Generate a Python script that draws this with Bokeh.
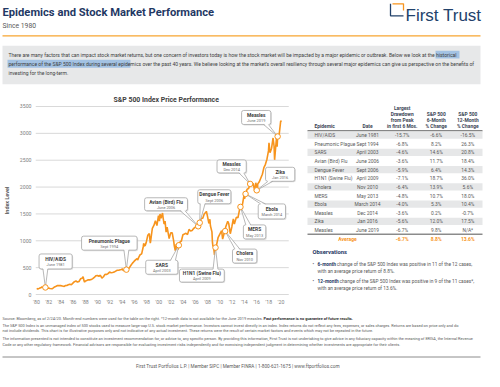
from bokeh.plotting import figure
from bokeh.layouts import column, row
from bokeh.models import Range1d, FixedTicker
from bokeh.core.properties import value
from bokeh.embed import file_html
from bokeh.resources import INLINE

FONT = "Roboto"
NAVY = "#1F3864"
ORANGE = "#F7941D"
GRAY = "#595959"

# ---------------- data ----------------
months = ["1980-01","1980-03","1980-06","1980-09","1980-11","1980-12","1981-03","1981-06","1981-09","1981-12",
          "1982-03","1982-07","1982-09","1982-12","1983-03","1983-06","1983-09","1983-12","1984-03","1984-07",
          "1984-09","1984-12","1985-03","1985-06","1985-09","1985-12","1986-03","1986-06","1986-09","1986-12",
          "1987-03","1987-06","1987-08","1987-10","1987-11","1987-12","1988-03","1988-06","1988-09","1988-12",
          "1989-03","1989-06","1989-09","1989-12","1990-03","1990-06","1990-09","1990-12","1991-03","1991-06",
          "1991-09","1991-12","1992-03","1992-06","1992-09","1992-12","1993-03","1993-06","1993-09","1993-12",
          "1994-01","1994-03","1994-06","1994-09","1994-12","1995-03","1995-06","1995-09","1995-12","1996-03",
          "1996-06","1996-07","1996-09","1996-12","1997-03","1997-06","1997-07","1997-08","1997-10","1997-12",
          "1998-03","1998-06","1998-08","1998-09","1998-11","1998-12","1999-03","1999-06","1999-09","1999-12",
          "2000-02","2000-03","2000-05","2000-08","2000-09","2000-11","2000-12","2001-01","2001-03","2001-05",
          "2001-09","2001-12","2002-03","2002-06","2002-07","2002-09","2002-11","2002-12","2003-02","2003-03",
          "2003-04","2003-06","2003-09","2003-12","2004-03","2004-06","2004-09","2004-12","2005-03","2005-06",
          "2005-09","2005-12","2006-03","2006-04","2006-06","2006-09","2006-12","2007-03","2007-06","2007-09",
          "2007-10","2007-12","2008-03","2008-05","2008-06","2008-09","2008-10","2008-11","2008-12","2009-02",
          "2009-03","2009-04","2009-06","2009-09","2009-12","2010-03","2010-04","2010-06","2010-09","2010-11",
          "2010-12","2011-04","2011-06","2011-09","2011-12","2012-03","2012-05","2012-09","2012-12","2013-03",
          "2013-05","2013-06","2013-09","2013-12","2014-01","2014-03","2014-06","2014-09","2014-12","2015-03",
          "2015-06","2015-08","2015-09","2015-11","2015-12","2016-01","2016-02","2016-03","2016-06","2016-09",
          "2016-12","2017-03","2017-06","2017-09","2017-12","2018-01","2018-03","2018-06","2018-09","2018-11",
          "2018-12","2019-03","2019-04","2019-05","2019-06","2019-09","2019-12","2020-01","2020-02"]
sp500 = [114.2,102.1,114.2,125.5,140.5,135.8,136.0,131.2,116.2,122.6,
         112.0,107.1,120.4,140.6,153.0,168.1,166.1,164.9,159.2,150.7,
         166.1,167.2,180.7,191.9,182.1,211.3,238.9,250.8,231.3,242.2,
         291.7,304.0,329.8,251.8,230.3,247.1,258.9,273.5,271.9,277.7,
         294.9,318.0,349.2,353.4,339.9,358.0,306.1,330.2,375.2,371.2,
         387.9,417.1,403.7,408.1,417.8,435.7,451.7,450.5,458.9,466.5,
         481.6,445.8,444.3,462.7,459.3,500.7,544.8,584.4,615.9,645.5,
         670.6,639.9,687.3,740.7,757.1,885.1,954.3,899.5,914.6,970.4,
         1101.8,1133.8,957.3,1017.0,1163.6,1229.2,1286.4,1372.7,1282.7,1469.3,
         1366.4,1498.6,1420.6,1517.7,1436.5,1315.2,1320.3,1366.0,1160.3,1255.8,
         1040.9,1148.1,1147.4,989.8,911.6,815.3,936.3,879.8,841.2,848.2,
         916.9,974.5,996.0,1111.9,1126.2,1140.8,1114.6,1211.9,1180.6,1191.3,
         1228.8,1248.3,1294.8,1310.6,1270.2,1335.9,1418.3,1420.9,1503.4,1526.8,
         1549.4,1468.4,1322.7,1400.4,1280.0,1166.4,968.8,896.2,903.3,735.1,
         797.9,872.8,919.3,1057.1,1115.1,1169.4,1186.7,1030.7,1141.2,1180.6,
         1257.6,1363.6,1320.6,1131.4,1257.6,1408.5,1310.3,1440.7,1426.2,1569.2,
         1630.7,1606.3,1681.6,1848.4,1782.6,1872.3,1960.2,1972.3,2058.9,2067.9,
         2063.1,1972.2,1920.0,2080.4,2043.9,1940.2,1932.2,2059.7,2098.9,2168.3,
         2238.8,2362.7,2423.4,2519.4,2673.6,2823.8,2640.9,2718.4,2914.0,2760.2,
         2506.9,2834.4,2945.8,2752.1,2941.8,2976.7,3230.8,3225.5,3225.9]

x_ticks = [1980,1982,1984,1986,1988,1990,1992,1994,1996,1998,2000,2002,2004,2006,2008,2010,2012,2014,2016,2018,2020]
x_tick_labels = ["'80","'82","'84","'86","'88","'90","'92","'94","'96","'98","'00","'02","'04","'06","'08","'10","'12","'14","'16","'18","'20"]
y_ticks = [0, 500, 1000, 1500, 2000, 2500, 3000, 3500]

epidemics = ["HIV/AIDS","Pneumonic Plague","SARS","Avian (Bird) Flu","Dengue Fever","H1N1 (Swine Flu)",
             "Cholera","MERS","Ebola","Measles","Zika","Measles"]
event_dates = ["June 1981","Sept 1994","April 2003","June 2006","Sept 2006","April 2009",
               "Nov 2010","May 2013","March 2014","Dec 2014","Jan 2016","June 2019"]
event_months = ["1981-06","1994-09","2003-04","2006-06","2006-09","2009-04",
                "2010-11","2013-05","2014-03","2014-12","2016-01","2019-06"]
drawdown = ["-15.7%","-6.8%","-4.6%","-3.6%","-5.9%","-7.1%","-6.4%","-4.8%","-4.0%","-3.6%","-5.6%","-6.7%"]
six_month = ["-6.6%","8.2%","14.6%","11.7%","6.4%","18.7%","13.9%","10.7%","5.3%","0.2%","12.0%","9.8%"]
twelve_month = ["-16.5%","26.3%","20.8%","18.4%","14.3%","36.0%","5.6%","18.0%","10.4%","-0.7%","17.5%","N/A*"]
average_row = ["-6.7%", "8.8%", "13.6%"]

# callout layout: box centre offset from marker (px right, px down), box width, height
callout_layout = [(10.5,-26,34,15),(-17.5,-26.5,57,14),(-17.5,22,33,14),(-33,-22,44,13),(15,-26,34,14),
                  (-14,28,46,13),(20,25,25,14),(14.5,25,23,14),(27,17.5,28,15),(-19,-17.5,30,13),
                  (24,-16,30,14),(-22,-19,30,14)]


def dec_year(m):
    y, mo = m.split("-")
    return int(y) + (int(mo) - 0.5) / 12.0


def blank(w, h):
    p = figure(width=w, height=h, x_range=Range1d(0, w), y_range=Range1d(h, 0),
               output_backend="svg", toolbar_location=None, min_border=0,
               x_axis_location=None, y_axis_location=None)
    p.grid.visible = False
    p.outline_line_color = None
    return p


def txt(p, x, y, s, size, color, bold=False, align="left", baseline="middle", font=FONT):
    p.text(x=[x], y=[y], text=[s], text_font=value(font), text_font_size=f"{size}px",
           text_color=color, text_font_style="bold" if bold else "normal",
           text_align=align, text_baseline=baseline)


# ---------------- header ----------------
hdr = blank(484, 90)
txt(hdr, 2, 12, "Epidemics and Stock Market Performance", 11.2, NAVY, bold=True, baseline="alphabetic")
txt(hdr, 2, 25, "Since 1980", 6.8, GRAY, baseline="alphabetic")
hdr.segment(x0=[2], y0=[35.3], x1=[480], y1=[35.3], line_color="#F7A531", line_width=1.2)
txt(hdr, 405, 15.3, "First Trust", 17, "#22426B", baseline="alphabetic", font="Liberation Sans")
hdr.multi_line(xs=[[403, 390, 390]], ys=[[15.3, 15.3, 3.3]], line_color="#22426B", line_width=1.3)
hdr.multi_line(xs=[[392, 403, 403]], ys=[[3.3, 3.3, 10]], line_color=ORANGE, line_width=1.3)
hdr.quad(left=[2], right=[480], top=[45.3], bottom=[83.7], fill_color="#E7E8E9", line_color=None)
hdr.quad(left=[435, 7], right=[459, 130], top=[50.3, 59.3], bottom=[58, 67.3],
         fill_color="#A3C2E3", line_color=None)
para = ["There are many factors that can impact stock market returns, but one concern of investors today is how the stock market will be impacted by a major epidemic or outbreak. Below we look at the historical",
        "performance of the S&P 500 Index during several epidemics over the past 40 years. We believe looking at the market\u2019s overall resiliency through several major epidemics can give us perspective on the benefits of",
        "investing for the long-term."]
for i, line in enumerate(para):
    txt(hdr, 8, 54.3 + 9 * i, line, 5.0, "#404040")

# ---------------- chart ----------------
X0, X1 = 1979.84, 2022.87
Y0, Y1 = -18.6, 3518.6
FW, FH = 270, 190
PX_X = FW / (X1 - X0)
PX_Y = FH / (Y1 - Y0)

ch = figure(width=304, height=220, x_range=Range1d(X0, X1), y_range=Range1d(Y0, Y1),
            output_backend="svg", toolbar_location=None,
            min_border_left=28, min_border_right=6, min_border_top=15, min_border_bottom=15)
ch.outline_line_color = None
ch.grid.visible = False
ch.title.text = "S&P 500 Index Price Performance"
ch.title.align = "left"
ch.title.offset = 78
ch.title.standoff = 3
ch.title.text_font = FONT
ch.title.text_font_size = "6.9px"
ch.title.text_font_style = "bold"
ch.title.text_color = "#404040"
for ax in (ch.xaxis[0], ch.yaxis[0]):
    ax.axis_line_color = None
    ax.major_tick_line_color = None
    ax.minor_tick_line_color = None
    ax.major_tick_in = 0
    ax.major_tick_out = 0
    ax.major_label_text_font = FONT
    ax.major_label_text_font_size = "5.2px"
    ax.major_label_text_color = "#808080"
ch.xaxis.ticker = FixedTicker(ticks=x_ticks)
ch.xaxis.major_label_overrides = {t: l for t, l in zip(x_ticks, x_tick_labels)}
ch.xaxis.major_label_standoff = 3
ch.yaxis.ticker = FixedTicker(ticks=y_ticks)
ch.yaxis.major_label_standoff = 4
ch.yaxis.axis_label = "Index Level"
ch.yaxis.axis_label_text_font = FONT
ch.yaxis.axis_label_text_font_size = "5.4px"
ch.yaxis.axis_label_text_font_style = "bold"
ch.yaxis.axis_label_text_color = "#595959"
ch.yaxis.axis_label_standoff = 7

grid_x0 = X0
grid_x1 = X0 + 260 / PX_X
ch.segment(x0=[grid_x0] * len(y_ticks), x1=[grid_x1] * len(y_ticks), y0=y_ticks, y1=y_ticks,
           line_color="#D9D9D9", line_width=1)

xs = [dec_year(m) for m in months]
ch.line(x=xs, y=sp500, line_color=ORANGE, line_width=1.6)

lookup = dict(zip(months, sp500))
ev_x = [dec_year(m) for m in event_months]
ev_y = [lookup[m] for m in event_months]


def to_data(ex, ey, px, py):
    return ex + px / PX_X, ey - py / PX_Y


def clamp(v, lo, hi):
    return max(lo, min(hi, v))


box_l, box_r, box_t, box_b = [], [], [], []
sh_l, sh_r, sh_t, sh_b = [], [], [], []
tail_xs, tail_ys, side_xs, side_ys = [], [], [], []
name_x, name_y, date_y = [], [], []
for i in range(len(epidemics)):
    ex, ey = ev_x[i], ev_y[i]
    dx, dy, w, h = callout_layout[i]
    l, r, t, b = dx - w / 2, dx + w / 2, dy - h / 2, dy + h / 2
    L, T = to_data(ex, ey, l, t)
    R, B = to_data(ex, ey, r, b)
    box_l.append(L); box_r.append(R); box_t.append(T); box_b.append(B)
    L2, T2 = to_data(ex, ey, l + 1, t + 1)
    R2, B2 = to_data(ex, ey, r + 1, b + 1)
    sh_l.append(L2); sh_r.append(R2); sh_t.append(T2); sh_b.append(B2)
    if b < 0:
        xb = clamp(0, l + 5, r - 5)
        p1, p2, q1, q2 = (xb - 2.5, b), (xb + 2.5, b), (xb - 2.5, b - 1), (xb + 2.5, b - 1)
    elif t > 0:
        xb = clamp(0, l + 5, r - 5)
        p1, p2, q1, q2 = (xb - 2.5, t), (xb + 2.5, t), (xb - 2.5, t + 1), (xb + 2.5, t + 1)
    elif dx > 0:
        yb = clamp(0, t + 4, b - 4)
        p1, p2, q1, q2 = (l, yb - 2.5), (l, yb + 2.5), (l + 1, yb - 2.5), (l + 1, yb + 2.5)
    else:
        yb = clamp(0, t + 4, b - 4)
        p1, p2, q1, q2 = (r, yb - 2.5), (r, yb + 2.5), (r - 1, yb - 2.5), (r - 1, yb + 2.5)
    pts = [to_data(ex, ey, *q1), to_data(ex, ey, 0, 0), to_data(ex, ey, *q2)]
    tail_xs.append([p[0] for p in pts]); tail_ys.append([p[1] for p in pts])
    pts2 = [to_data(ex, ey, *p1), to_data(ex, ey, 0, 0), to_data(ex, ey, *p2)]
    side_xs.append([p[0] for p in pts2]); side_ys.append([p[1] for p in pts2])
    cx, cy = to_data(ex, ey, dx, dy - 2.6)
    _, cy2 = to_data(ex, ey, dx, dy + 3.3)
    name_x.append(cx); name_y.append(cy); date_y.append(cy2)

ch.quad(left=sh_l, right=sh_r, top=sh_t, bottom=sh_b, fill_color="#C8C8C8", fill_alpha=0.6,
        line_color=None, border_radius=2)
ch.quad(left=box_l, right=box_r, top=box_t, bottom=box_b, fill_color="white",
        line_color="#A6A6A6", line_width=0.8, border_radius=2)
ch.patches(xs=tail_xs, ys=tail_ys, fill_color="white", line_color=None)
ch.multi_line(xs=side_xs, ys=side_ys, line_color="#A6A6A6", line_width=0.8)
ch.text(x=name_x, y=name_y, text=epidemics, text_font=value(FONT), text_font_size="4.9px",
        text_font_style="bold", text_color="#404040", text_align="center", text_baseline="middle")
ch.text(x=name_x, y=date_y, text=event_dates, text_font=value(FONT), text_font_size="3.9px",
        text_color="#6E6E6E", text_align="center", text_baseline="middle")
ch.scatter(x=ev_x, y=ev_y, size=5.5, fill_color="white", line_color=ORANGE, line_width=1)

# ---------------- table ----------------
tb = blank(180, 220)
HC = "#3B4656"
HS = 4.9
col_name, col_date, col_dd, col_6, col_12 = 10, 63, 97.7, 131.7, 163.3
for j, s in enumerate(["Largest", "Drawdown", "from Peak", "in first 6 Mos."]):
    txt(tb, col_dd, 3.3 + 6.9 * j, s, HS, HC, bold=True, align="center")
for j, s in enumerate(["S&P 500", "6-Month", "% Change"]):
    txt(tb, col_6, 10.2 + 6.9 * j, s, HS, HC, bold=True, align="center")
for j, s in enumerate(["S&P 500", "12-Month", "% Change"]):
    txt(tb, col_12, 10.2 + 6.9 * j, s, HS, HC, bold=True, align="center")
txt(tb, col_name, 24, "Epidemic", HS, HC, bold=True)
txt(tb, col_date, 24, "Date", HS, HC, bold=True, align="center")
tb.segment(x0=[3], x1=[178], y0=[29.3], y1=[29.3], line_color="#404040", line_width=0.9)
rows_y = [34.3 + 10 * i for i in range(len(epidemics))]
shade_y = [y for i, y in enumerate(rows_y) if i % 2 == 0]
tb.quad(left=[3] * len(shade_y), right=[178] * len(shade_y), top=[y - 4.2 for y in shade_y],
        bottom=[y + 4.2 for y in shade_y], fill_color="#E6E7E8", line_color=None)
RC = "#595959"
RS = 4.9
tb.text(x=[col_name] * len(rows_y), y=rows_y, text=epidemics, text_font=value(FONT),
        text_font_size=f"{RS}px", text_color=RC, text_align="left", text_baseline="middle")
for colx, vals in ((col_date, event_dates), (col_dd, drawdown), (col_6, six_month), (col_12, twelve_month)):
    tb.text(x=[colx] * len(rows_y), y=rows_y, text=vals, text_font=value(FONT),
            text_font_size=f"{RS}px", text_color=RC, text_align="center", text_baseline="middle")
tb.segment(x0=[3], x1=[178], y0=[149], y1=[149], line_color="#404040", line_width=0.9)
txt(tb, 43, 154.3, "Average", 5.0, ORANGE, bold=True, align="center")
for colx, v in zip((col_dd, col_6, col_12), average_row):
    txt(tb, colx, 154.3, v, 5.0, ORANGE, bold=True, align="center")

OS = 4.8
txt(tb, 8, 170, "Observations", 5.8, NAVY, bold=True)
txt(tb, 8, 184, "\u2022", OS, RC)
txt(tb, 13, 184, "6-month", OS, NAVY, bold=True)
txt(tb, 32.3, 184, "change of the S&P 500 Index was positive in 11 of the 12 cases,", OS, RC)
txt(tb, 13, 192, "with an average price return of 8.8%.", OS, RC)
txt(tb, 8, 204, "\u2022", OS, RC)
txt(tb, 13, 204, "12-month", OS, NAVY, bold=True)
txt(tb, 34.9, 204, "change of the S&P 500 Index was positive in 9 of the 11 cases*,", OS, RC)
txt(tb, 13, 212, "with an average price return of 13.6%.", OS, RC)

# ---------------- footer ----------------
ft = blank(484, 61)
FS = 3.9
txt(ft, 2, 8, "Source: Bloomberg, as of 2/24/20. Month-end numbers were used for the table on the right. *12-month data is not available for the June 2019 measles.", FS, RC)
txt(ft, 263, 8, "Past performance is no guarantee of future results.", FS, "#303030", bold=True)
txt(ft, 2, 14.5, "The S&P 500 Index is an unmanaged index of 500 stocks used to measure large-cap U.S. stock market performance. Investors cannot invest directly in an index. Index returns do not reflect any fees, expenses, or sales charges. Returns are based on price only and do", FS, RC)
txt(ft, 2, 20, "not include dividends. This chart is for illustrative purposes only and not indicative of any actual investment. These returns were the result of certain market factors and events which may not be repeated in the future.", FS, RC)
txt(ft, 2, 28, "The information presented is not intended to constitute an investment recommendation for, or advice to, any specific person. By providing this information, First Trust is not undertaking to give advice in any fiduciary capacity within the meaning of ERISA, the Internal Revenue", FS, RC)
txt(ft, 2, 34, "Code or any other regulatory framework. Financial advisors are responsible for evaluating investment risks independently and for exercising independent judgment in determining whether investments are appropriate for their clients.", FS, RC)
ft.segment(x0=[2], x1=[480], y0=[46.5], y1=[46.5], line_color="#8C8C8C", line_width=1)
txt(ft, 242, 56, "First Trust Portfolios L.P.  |  Member SIPC  |  Member FINRA  |  1-800-621-1675  |  www.ftportfolios.com", 4.7, RC, align="center")

page = column(hdr, row(ch, tb), ft)
open("out.html", "w").write(file_html(page, INLINE))
